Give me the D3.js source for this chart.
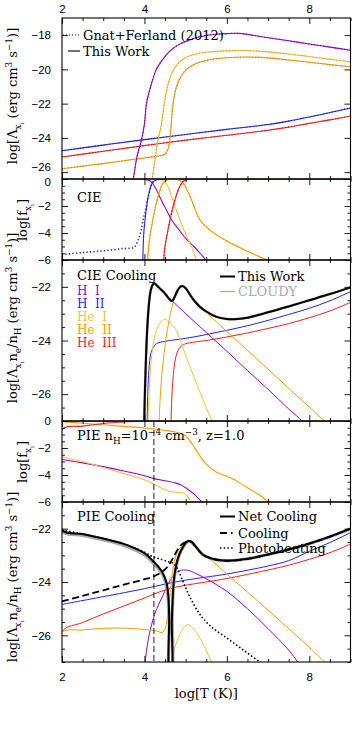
<!DOCTYPE html>
<html><head><meta charset="utf-8">
<script src="https://cdn.jsdelivr.net/npm/d3@7"></script>
<style>
body{margin:0;background:#fff}
svg{display:block}
text{font-family:"DejaVu Serif",serif}
.tick text{font-family:"Liberation Sans",Arial,sans-serif}
</style>
</head><body><svg id="c" width="352" height="745"></svg>
<script>
// ---------------- DATA (logT, log value) ----------------
// Panel 1: CIE cooling coefficients Lambda
const cieLamHI   = [[3.70,-26.8],[3.73,-26.4],[3.82,-25.1],[3.93,-24.1],[4.0,-23.2],[4.05,-22.0],[4.15,-21.0],[4.29,-20.0],[4.45,-19.4],[4.61,-18.95],[4.8,-18.6],[5.02,-18.35],[5.25,-18.15],[5.5,-18.02],[5.75,-17.95],[6.0,-17.91],[6.3,-17.9],[7.0,-18.15],[7.5,-18.33],[8.0,-18.52],[8.5,-18.7],[9.0,-18.88]];
const cieLamHII  = [[2,-24.75],[3,-24.42],[4,-24.1],[5,-23.8],[6,-23.5],[7,-23.22],[7.5,-23.02],[8,-22.78],[8.5,-22.52],[9,-22.25]];
const cieLamHeI  = [[4.16,-26.8],[4.19,-26.4],[4.26,-25.2],[4.33,-24.1],[4.41,-23.26],[4.46,-22.35],[4.52,-21.45],[4.6,-20.65],[4.7,-20.05],[4.85,-19.58],[5.0,-19.3],[5.25,-19.1],[5.5,-19.0],[6.0,-18.92],[6.5,-18.9],[7.0,-18.98],[7.5,-19.1],[8.0,-19.25],[8.5,-19.4],[9.0,-19.56]];
const cieLamHeII = [[2,-25.8],[2.5,-25.65],[3,-25.5],[3.5,-25.33],[4,-25.17],[4.45,-25.0],[4.52,-24.9],[4.58,-24.6],[4.62,-24.0],[4.65,-23.2],[4.68,-22.3],[4.72,-21.6],[4.78,-21.0],[4.88,-20.45],[5.02,-20.0],[5.2,-19.72],[5.34,-19.58],[5.6,-19.42],[6.0,-19.32],[6.5,-19.28],[7.0,-19.33],[7.5,-19.45],[8.0,-19.58],[8.5,-19.72],[9.0,-19.85]];
const cieLamHeIII= [[2,-25.12],[3,-24.78],[4,-24.45],[5,-24.13],[6,-23.85],[7,-23.55],[7.5,-23.37],[8,-23.15],[8.5,-22.95],[9,-22.72]];

// Panel 2: CIE ionisation fractions
const cieFHI   = [[2,0],[3.9,0],[4.0,-0.03],[4.1,-0.1],[4.18,-0.25],[4.3,-0.85],[4.4,-1.5],[4.5,-2.1],[4.6,-2.7],[4.7,-3.2],[4.8,-3.6],[5.0,-4.4],[5.2,-5.0],[5.35,-5.5],[5.52,-6.1]];
const cieFHII  = [[3.96,-6.5],[3.97,-5.0],[3.99,-3.8],[4.03,-2.6],[4.1,-1.2],[4.2,-0.25],[4.3,-0.06],[4.5,-0.01],[5,0],[9,0]];
const gfFHII   = [[2,-5.6],[2.5,-5.45],[3,-5.32],[3.5,-5.15],[3.75,-5.05],[3.85,-4.5],[3.92,-3.8],[3.97,-3.0],[4.03,-2.3],[4.1,-1.2],[4.2,-0.25],[4.3,-0.06],[4.5,-0.01],[5,0],[9,0]];
const cieFHeI  = [[2,0],[4.35,0],[4.45,-0.08],[4.55,-0.45],[4.65,-1.2],[4.75,-2.1],[4.86,-3.0],[4.94,-3.65],[5.05,-4.4],[5.15,-5.1],[5.27,-6.1]];
const cieFHeII = [[4.07,-6.5],[4.09,-5.5],[4.12,-4.5],[4.17,-3.6],[4.25,-2.3],[4.35,-1.1],[4.45,-0.3],[4.55,-0.07],[4.7,-0.02],[4.85,-0.1],[4.95,-0.35],[5.05,-0.9],[5.15,-1.6],[5.25,-2.4],[5.34,-3.0],[5.5,-3.55],[5.66,-3.95],[6.0,-4.6],[6.5,-5.35],[7.05,-6.1]];
const cieFHeIII= [[4.46,-6.5],[4.48,-5.5],[4.52,-4.6],[4.57,-3.8],[4.65,-2.6],[4.75,-1.45],[4.85,-0.6],[4.95,-0.15],[5.05,-0.03],[5.2,0],[9,0]];

// Panel 3: CIE cooling, Lambda ne/nH
const cieNet   = [[3.99,-27.5],[4.01,-26.0],[4.03,-25.0],[4.06,-23.8],[4.1,-22.8],[4.15,-22.15],[4.2,-21.92],[4.24,-21.87],[4.3,-21.95],[4.4,-22.1],[4.5,-22.25],[4.6,-22.45],[4.67,-22.53],[4.72,-22.42],[4.8,-22.15],[4.87,-22.0],[4.92,-21.97],[5.0,-22.05],[5.1,-22.28],[5.2,-22.5],[5.35,-22.75],[5.5,-22.92],[5.75,-23.12],[6.0,-23.2],[6.25,-23.2],[6.5,-23.15],[7.0,-22.95],[7.5,-22.73],[8.0,-22.5],[8.5,-22.27],[9.0,-22.02]];
const cieCloudy= cieNet;
const cieCoolHI   = [[3.99,-27.5],[4.02,-26],[4.05,-24.5],[4.1,-23.0],[4.15,-22.25],[4.2,-21.95],[4.24,-21.9],[4.3,-21.97],[4.5,-22.27],[4.67,-22.52],[5.0,-23.0],[5.5,-23.7],[6.0,-24.4],[6.5,-25.12],[7.0,-25.82],[7.5,-26.55],[7.82,-27.0],[7.9,-27.2]];
const cieCoolHII  = [[4.06,-27.5],[4.08,-26],[4.1,-25.3],[4.14,-24.6],[4.2,-24.3],[4.29,-24.12],[4.5,-24.03],[5.0,-23.92],[5.5,-23.78],[6.0,-23.62],[6.5,-23.45],[7.0,-23.25],[7.5,-23.03],[8.0,-22.8],[8.5,-22.52],[9.0,-22.18]];
const cieCoolHeI  = [[4.08,-27.5],[4.1,-26.5],[4.15,-25.0],[4.22,-24.1],[4.3,-23.6],[4.4,-23.3],[4.48,-23.2],[4.56,-23.25],[4.66,-23.4],[4.76,-23.6],[4.86,-23.95],[5.0,-24.55],[5.2,-25.35],[5.42,-26.2],[5.64,-27.0],[5.7,-27.2]];
const cieCoolHeII = [[4.34,-27.5],[4.37,-26.5],[4.42,-25.3],[4.5,-24.2],[4.58,-23.4],[4.66,-22.8],[4.75,-22.35],[4.85,-22.07],[4.92,-21.97],[5.0,-22.05],[5.1,-22.3],[5.3,-22.65],[5.6,-23.1],[6.0,-23.66],[6.5,-24.37],[7.0,-25.07],[7.5,-25.78],[8.0,-26.48],[8.37,-27.0],[8.45,-27.1]];
const cieCoolHeIII= [[4.64,-27.5],[4.66,-26.3],[4.7,-25.3],[4.75,-24.7],[4.82,-24.35],[4.9,-24.2],[5.0,-24.12],[5.5,-24.0],[6.0,-23.87],[6.5,-23.72],[7.0,-23.55],[7.5,-23.37],[8.0,-23.15],[8.5,-22.9],[9.0,-22.58]];

// Panel 4: PIE ionisation fractions
const pieFHI   = [[2,-2.85],[2.5,-3.1],[3,-3.38],[3.5,-3.7],[4,-4.05],[4.21,-4.25],[4.5,-4.43],[4.77,-4.6],[4.9,-4.75],[5.0,-4.95],[5.2,-5.4],[5.42,-6.1]];
const pieFHII  = [[2,0],[9,0]];
const pieFHeI  = [[2,-2.3],[2,-2.6],[2.5,-3.0],[3,-3.45],[3.5,-3.9],[4,-4.35],[4.21,-4.65],[4.4,-4.95],[4.6,-5.2],[4.75,-5.28],[4.9,-5.3],[4.98,-5.38],[5.05,-5.6],[5.1,-5.85],[5.15,-6.1]];
const pieFHeII = [[2,-0.05],[2.5,-0.17],[3,-0.28],[3.5,-0.4],[4,-0.52],[4.5,-0.7],[4.75,-0.82],[4.9,-0.95],[5.0,-1.1],[5.1,-1.45],[5.2,-1.9],[5.35,-2.6],[5.5,-3.2],[5.75,-3.8],[6.0,-4.1],[6.15,-4.3],[6.5,-4.95],[6.8,-5.5],[7.05,-6.1]];
const pieFHeIII= [[2,-7],[2,-0.65],[2.5,-0.38],[3,-0.18],[3.5,-0.07],[4,-0.02],[4.5,0],[9,0]];
const pieMarkT = [4.23];

// Panel 5: PIE cooling
const pieNet   = [[2,-20.5],[2,-22.05],[2.5,-22.2],[3,-22.37],[3.5,-22.57],[4,-22.92],[4.2,-23.2],[4.3,-23.36],[4.4,-23.55],[4.48,-23.78],[4.54,-24.05],[4.58,-24.5],[4.6,-25.3],[4.612,-27.5],[4.655,-27.5],[4.665,-25.5],[4.69,-24.5],[4.72,-23.85],[4.78,-23.3],[4.85,-22.95],[4.95,-22.65],[5.02,-22.5],[5.08,-22.46],[5.15,-22.5],[5.25,-22.68],[5.42,-22.98],[5.7,-23.15],[6.0,-23.2],[6.5,-23.13],[7.0,-22.97],[7.5,-22.78],[8.0,-22.56],[8.5,-22.3],[9.0,-22.0]];
const pieCloudy= [[2,-20.5],[2,-22.1],[2.5,-22.25],[3,-22.42],[3.5,-22.63],[4,-22.98],[4.2,-23.27],[4.4,-23.62],[4.5,-23.95],[4.56,-24.4],[4.6,-25.5],[4.615,-27.5],[4.66,-27.5],[4.675,-25.3],[4.7,-24.3],[4.75,-23.6],[4.85,-22.98],[4.95,-22.66],[5.08,-22.47],[5.25,-22.68],[5.42,-22.98],[5.7,-23.15],[6.0,-23.2],[6.5,-23.13],[7.0,-22.97],[7.5,-22.78],[8.0,-22.56],[8.5,-22.3],[9.0,-22.0]];
const pieCool  = [[2,-24.73],[2.5,-24.52],[3,-24.31],[3.5,-24.1],[4,-23.9],[4.21,-23.8],[4.4,-23.65],[4.53,-23.48],[4.62,-23.3],[4.7,-23.08],[4.8,-22.8],[4.9,-22.6],[5.0,-22.5],[5.08,-22.46],[5.15,-22.5],[5.25,-22.68],[5.42,-22.98],[5.7,-23.15],[6.0,-23.2],[6.5,-23.13],[7.0,-22.97],[7.5,-22.78],[8.0,-22.56],[8.5,-22.3],[9.0,-22.0]];
const pieHeat  = [[2,-22.05],[2.5,-22.2],[3,-22.37],[3.5,-22.57],[4,-22.88],[4.2,-23.05],[4.4,-23.15],[4.6,-23.25],[4.7,-23.3],[4.8,-23.5],[4.94,-24.0],[5.1,-24.55],[5.34,-25.2],[5.6,-25.65],[6.0,-26.1],[6.4,-26.55],[6.8,-27.0],[6.9,-27.1]];
const pieCoolHI   = [[4.0,-27.2],[4.05,-26.6],[4.1,-26.1],[4.2,-25.45],[4.3,-25.0],[4.45,-24.5],[4.6,-24.0],[4.77,-23.65],[4.9,-23.56],[5.0,-23.55],[5.1,-23.58],[5.3,-23.72],[5.5,-23.88],[6.0,-24.35],[6.5,-25.0],[7.0,-25.75],[7.5,-26.55],[7.72,-27.0],[7.8,-27.15]];
const pieCoolHII  = [[2,-24.84],[3,-24.55],[4,-24.25],[4.5,-24.08],[5,-23.93],[6,-23.7],[7,-23.4],[7.5,-23.2],[8,-22.85],[8.5,-22.52],[9,-22.15]];
const pieCoolHeI  = [[4.63,-27.2],[4.66,-26.9],[4.75,-26.4],[4.85,-26.0],[4.95,-25.72],[5.06,-25.6],[5.15,-25.68],[5.3,-25.98],[5.45,-26.4],[5.62,-27.0],[5.68,-27.2]];
const pieCoolHeII = [[2,-28],[2,-25.9],[2.5,-25.8],[3,-25.74],[3.5,-25.73],[4,-25.78],[4.3,-25.84],[4.43,-25.9],[4.5,-25.75],[4.55,-25.4],[4.6,-24.8],[4.65,-24.0],[4.7,-23.45],[4.77,-23.0],[4.9,-22.65],[5.0,-22.52],[5.06,-22.49],[5.15,-22.55],[5.3,-22.75],[5.6,-23.15],[6.0,-23.7],[6.5,-24.38],[7.0,-25.05],[7.5,-25.75],[8.0,-26.45],[8.37,-27.0],[8.45,-27.1]];
const pieCoolHeIII= [[2,-28],[2,-25.86],[2.5,-25.52],[3,-25.2],[3.5,-24.9],[4,-24.6],[4.5,-24.3],[5,-24.12],[5.5,-24.0],[6,-23.87],[7,-23.55],[7.5,-23.37],[8,-23.15],[8.5,-22.9],[9,-22.58]];

// Tick labels
const xTickMajor = [2,4,6,8];
const yTicksLam  = [-18,-20,-22,-24,-26];
const yTicksF    = [0,-2,-4,-6];
const yTicksCool = [-22,-24,-26];
const speciesNames = ["H  I","H  II","He  I","He  II","He  III"];

// ---------------- DRAWING ----------------
const C = {HI:"#9900cc", HII:"#1f1fff", HeI:"#ffbf33", HeII:"#ff9900", HeIII:"#ff1a1a"};
const svg = d3.select("#c");
svg.append("rect").attr("width",352).attr("height",745).attr("fill","#fff");
const X0 = 62, X1 = 350.5;
const x = d3.scaleLinear([2,9],[X0,X1]);
const xMinor = d3.range(2,9.01,0.5).filter(v=>v%2!==0);

const panels = [
  {top:18,  bottom:179, dom:[-26.4,-17], ticks:yTicksLam},
  {top:179, bottom:260, dom:[-6,0],      ticks:yTicksF},
  {top:260, bottom:421, dom:[-27,-21],   ticks:yTicksCool},
  {top:421, bottom:502, dom:[-6,0],      ticks:yTicksF},
  {top:502, bottom:662, dom:[-27,-21],   ticks:yTicksCool}
];
panels.forEach((p,i)=>{
  p.y = d3.scaleLinear(p.dom,[p.bottom,p.top]);
  p.g = svg.append("g");
  svg.append("clipPath").attr("id","clip"+i).append("rect")
    .attr("x",X0).attr("y",p.top).attr("width",X1-X0).attr("height",p.bottom-p.top);
  p.plot = p.g.append("g").attr("clip-path",`url(#clip${i})`);
});

function line(p, data, color, w, dash){
  const gen = d3.line().x(d=>x(d[0])).y(d=>p.y(d[1])).curve(d3.curveCatmullRom.alpha(0.5));
  const path = p.plot.append("path").datum(data).attr("d",gen)
    .attr("fill","none").attr("stroke",color).attr("stroke-width",w)
    .attr("stroke-linejoin","round");
  if(dash) path.attr("stroke-dasharray",dash);
  return path;
}

// Panel 1
{ const p = panels[0];
  [[cieLamHeIII,C.HeIII],[cieLamHII,C.HII],[cieLamHeII,C.HeII],[cieLamHeI,C.HeI],[cieLamHI,C.HI]].forEach(([d,c])=>{
    line(p,d,c,1.1); line(p,d,d3.color(c).darker(0.6),1.1,"1,2");
  });
}
// Panel 2
{ const p = panels[1];
  line(p,cieFHI,C.HI,1.1); line(p,cieFHeI,C.HeI,1.1);
  line(p,cieFHII,C.HII,1.1); line(p,cieFHeII,C.HeII,1.1); line(p,cieFHeIII,C.HeIII,1.1);
  line(p,gfFHII,C.HII,1.6,"1.3,2.2");
  line(p,cieFHeII,C.HeII,1.4,"1.3,2.2");
  line(p,cieFHeIII,C.HeIII,1.4,"1.3,2.2");
}
// Panel 3
{ const p = panels[2];
  line(p,cieCoolHeIII,C.HeIII,1); line(p,cieCoolHII,C.HII,1);
  line(p,cieCoolHeI,C.HeI,1); line(p,cieCoolHeII,C.HeII,1); line(p,cieCoolHI,C.HI,1);
  line(p,cieCloudy,"#aaaaaa",2.6);
  line(p,cieNet,"#000",2);
}
// Panel 4
{ const p = panels[3];
  line(p,pieFHI,C.HI,1.1); line(p,pieFHeI,C.HeI,1.1);
  line(p,pieFHeII,C.HeII,1.1); line(p,pieFHeIII,C.HeIII,1.1); line(p,pieFHII,C.HII,1.6);
}
// Panel 5
{ const p = panels[4];
  line(p,pieCoolHeIII,C.HeIII,1); line(p,pieCoolHII,C.HII,1);
  line(p,pieCoolHeI,C.HeI,1); line(p,pieCoolHI,C.HI,1); line(p,pieCoolHeII,C.HeII,1);
  line(p,pieCloudy,"#a8a8a8",3.2);
  line(p,pieHeat,"#000",1.6,"1.5,2.2");
  line(p,pieCool,"#000",1.8,"7,3.5");
  line(p,pieNet,"#000",2);
}
// vertical dashed marker across panels 4 and 5
svg.selectAll("line.mark").data(pieMarkT).enter().append("line")
  .attr("x1",d=>x(d)).attr("x2",d=>x(d)).attr("y1",panels[3].top).attr("y2",panels[4].bottom)
  .attr("stroke","#000").attr("stroke-width",0.9).attr("stroke-dasharray","6,3");

// Axes
const fmt = v => (v<0?"\u2212":"")+Math.abs(v);
panels.forEach((p,i)=>{
  const yMinor = d3.range(p.dom[0],p.dom[1]+0.001,0.5).filter(v=>!p.ticks.includes(v) && Math.abs(v*2-Math.round(v*2))<1e-6);
  const ax = (gen, tx, ty, vals, size, labels)=>{
    const a = p.g.append("g").attr("transform",`translate(${tx},${ty})`)
      .call(gen.tickValues(vals).tickSizeInner(-size).tickSizeOuter(0).tickPadding(labels?5:0).tickFormat(labels?fmt:()=>""));
    a.select(".domain").remove();
    a.selectAll("line").attr("stroke","#000").attr("stroke-width",0.9);
    a.selectAll("text").attr("fill","#000").attr("font-size",11.5).attr("font-family","Liberation Sans, Arial, sans-serif");
    return a;
  };
  const left = ax(d3.axisLeft(p.y), X0, 0, p.ticks, 6, true);
  left.selectAll("text").attr("x",-11);
  if(i===0) left.selectAll("text").filter(d=>d===-26).attr("dy","-1.5");
  if(i===1) left.selectAll("text").filter(d=>d===0).attr("dy","6.5");
  ax(d3.axisLeft(p.y), X0, 0, yMinor, 3, false);
  ax(d3.axisRight(p.y), X1, 0, p.ticks, 6, false);
  ax(d3.axisRight(p.y), X1, 0, yMinor, 3, false);
  const topA = ax(d3.axisTop(x), 0, p.top, xTickMajor, 6, i===0);
  ax(d3.axisTop(x), 0, p.top, xMinor, 3, false);
  const botA = ax(d3.axisBottom(x), 0, p.bottom, xTickMajor, 6, i===4);
  ax(d3.axisBottom(x), 0, p.bottom, xMinor, 3, false);
  if(i===0) topA.selectAll("text").attr("y",-5);
  if(i===4) botA.selectAll("text").attr("y",11);
  p.g.append("rect").attr("x",X0).attr("y",p.top).attr("width",X1-X0).attr("height",p.bottom-p.top)
    .attr("fill","none").attr("stroke","#000").attr("stroke-width",1.1);
});

// rich text helper
function rich(sel, parts, size){
  let cur = 0;
  parts.forEach(([t,k])=>{
    const off = k==="sub"?0.3 : k==="sup"?-0.42 : k==="ss"?0.55 : 0;
    const fs = k==="ss"?size*0.45 : (k==="sub"||k==="sup")?size*0.68 : size;
    sel.append("tspan").attr("dy",((off-cur)*size).toFixed(2)).attr("font-size",fs).text(t);
    cur = off;
  });
  return sel;
}
const FS = 13;
const lamParts = [["log[Λ"],["x","sub"],["i","ss"],[" (erg cm"],["3","sup"],[" s"],["−1","sup"],[")]"]];
const fParts = [["log[f"],["x","sub"],["i","ss"],["]"]];
const coolParts = [["log[Λ"],["x","sub"],["i","ss"],["n"],["e","sub"],["/n"],["H","sub"],[" (erg cm"],["3","sup"],[" s"],["−1","sup"],[")]"]];
function yLabel(cx, cy, parts){
  const t = svg.append("text").attr("transform",`translate(${cx},${cy}) rotate(-90)`)
    .attr("text-anchor","middle").attr("font-size",FS).attr("fill","#000");
  rich(t, parts, FS);
}
yLabel(17, 96, lamParts);
yLabel(27, 220, fParts);
yLabel(17, 318, coolParts);
yLabel(27, 462, fParts);
yLabel(17, 577, coolParts);

// x title
svg.append("text").attr("x",(X0+X1)/2).attr("y",698).attr("text-anchor","middle")
  .attr("font-size",FS).text("log[T (K)]");

// Panel 1 legend
svg.append("line").attr("x1",X0+1).attr("x2",80).attr("y1",35).attr("y2",35)
  .attr("stroke","#000").attr("stroke-width",1.1).attr("stroke-dasharray","1,2");
svg.append("line").attr("x1",68).attr("x2",80).attr("y1",51).attr("y2",51)
  .attr("stroke","#000").attr("stroke-width",1.1);
svg.append("text").attr("x",83).attr("y",39.5).attr("font-size",FS).text("Gnat+Ferland (2012)");
svg.append("text").attr("x",83).attr("y",55.5).attr("font-size",FS).text("This Work");

// Panel 2 label
svg.append("text").attr("x",77).attr("y",201.5).attr("font-size",FS).text("CIE");

// Panel 3 labels
svg.append("text").attr("x",77).attr("y",280).attr("font-size",FS).text("CIE Cooling");
const spCols = [C.HI,C.HII,C.HeI,C.HeII,C.HeIII];
svg.selectAll("text.sp").data(speciesNames).enter().append("text")
  .attr("x",77).attr("y",(d,i)=>294.5+i*13).attr("font-size",12)
  .attr("fill",(d,i)=>spCols[i]).attr("xml:space","preserve").style("white-space","pre").text(d=>d);
svg.append("line").attr("x1",220).attr("x2",235).attr("y1",276.5).attr("y2",276.5).attr("stroke","#000").attr("stroke-width",2);
svg.append("text").attr("x",238).attr("y",281).attr("font-size",FS).text("This Work");
svg.append("line").attr("x1",220).attr("x2",235).attr("y1",291.5).attr("y2",291.5).attr("stroke","#aaa").attr("stroke-width",1.3);
svg.append("text").attr("x",238).attr("y",296).attr("font-size",FS).attr("fill","#aaa").text("CLOUDY");

// Panel 4 label
rich(svg.append("text").attr("x",77).attr("y",440).attr("font-size",FS),
  [["PIE n"],["H","sub"],["=10"],["−4","sup"],[" cm"],["−3","sup"],[", z=1.0"]], FS);

// Panel 5 labels
svg.append("text").attr("x",77).attr("y",521).attr("font-size",FS).text("PIE Cooling");
svg.append("line").attr("x1",220).attr("x2",235).attr("y1",516.5).attr("y2",516.5).attr("stroke","#000").attr("stroke-width",2);
svg.append("text").attr("x",238).attr("y",521).attr("font-size",FS).text("Net Cooling");
svg.append("line").attr("x1",220).attr("x2",235).attr("y1",533).attr("y2",533).attr("stroke","#000").attr("stroke-width",1.8).attr("stroke-dasharray","7,4,1.5,4");
svg.append("text").attr("x",238).attr("y",537.5).attr("font-size",FS).text("Cooling");
svg.append("line").attr("x1",220).attr("x2",235).attr("y1",548).attr("y2",548).attr("stroke","#000").attr("stroke-width",1.6).attr("stroke-dasharray","1.5,2.2");
svg.append("text").attr("x",238).attr("y",552.5).attr("font-size",FS).text("Photoheating");
</script></body></html>
